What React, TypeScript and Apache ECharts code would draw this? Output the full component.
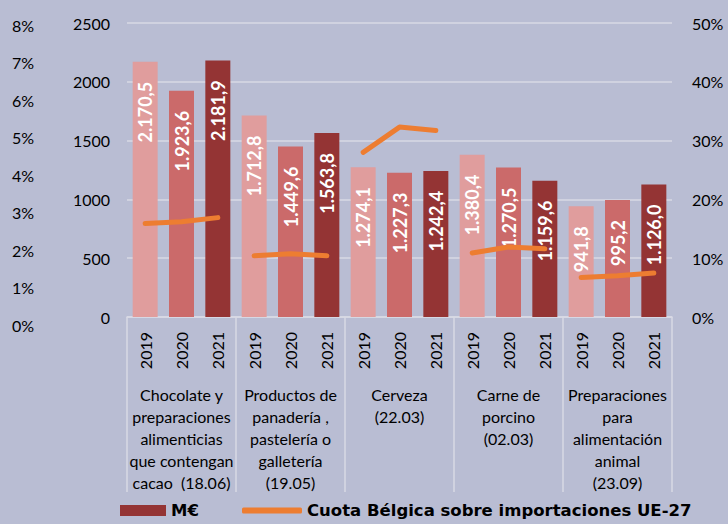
import React, { useEffect, useRef } from "react";
import * as echarts from "echarts";

const years = ["2019", "2020", "2021", "2019", "2020", "2021", "2019", "2020", "2021", "2019", "2020", "2021", "2019", "2020", "2021"];
const groups = [
  "Chocolate y\npreparaciones\nalimenticias\nque contengan\ncacao  (18.06)",
  "Productos de\npanadería ,\npastelería o\ngalletería\n(19.05)",
  "Cerveza\n(22.03)",
  "Carne de\nporcino\n(02.03)",
  "Preparaciones\npara\nalimentación\nanimal\n(23.09)",
];
const importsMEur = [2170.5, 1923.6, 2181.9, 1712.8, 1449.6, 1563.8, 1274.1, 1227.3, 1242.4, 1380.4, 1270.5, 1159.6, 941.8, 995.2, 1126.0];
const shareBelgium = [
  [0.159, 0.162, 0.169],
  [0.104, 0.1075, 0.104],
  [0.28, 0.323, 0.317],
  [0.109, 0.119, 0.116],
  [0.067, 0.07, 0.075],
];
const yearColors = ["#e09d9d", "#cb6a6a", "#943434"];
const leftPctTicks = [0, 0.08];
const barName = "M€";
const lineName = "Cuota Bélgica sobre importaciones UE-27";

const FONT = "Lato";
const WIDE_BOLD = "DejaVu Sans";

function fmtEs(v: number): string {
  const s = v.toFixed(1);
  const [intPart, dec] = s.split(".");
  const withDots = intPart.replace(/\B(?=(\d{3})+(?!\d))/g, ".");
  return withDots + "," + dec;
}

export default function App() {
  const ref = useRef<HTMLDivElement>(null);
  useEffect(() => {
    if (!ref.current) return;
    const chart = echarts.init(ref.current, null, { renderer: "svg" });
    const gridColor = "#d9dae5";
    const lineSeries = shareBelgium.map((vals, gi) => {
      const data: (number | string)[] = years.map(() => "-");
      vals.forEach((v, k) => {
        data[gi * 3 + k] = v;
      });
      return {
        name: lineName,
        type: "line",
        xAxisIndex: 0,
        yAxisIndex: 1,
        data,
        symbol: "none",
        showSymbol: false,
        connectNulls: false,
        z: 5,
        lineStyle: { color: "#ed7d31", width: 5, cap: "round", join: "round" },
        itemStyle: { color: "#ed7d31" },
      };
    });
    chart.setOption({
      animation: false,
      backgroundColor: "#b9bdd3",
      textStyle: { fontFamily: FONT },
      grid: [
        { left: 127, right: 56, top: 23, bottom: 207 },
        { left: 40, width: 1, top: 25, height: 300 },
      ],
      legend: [
        {
          data: [barName],
          left: 115,
          top: 497,
          padding: 5,
          itemWidth: 46,
          itemHeight: 11,
          icon: "rect",
          textStyle: { fontFamily: WIDE_BOLD, fontWeight: "bold", fontSize: 16.5, color: "#000" },
        },
        {
          data: [{ name: lineName, icon: "roundRect" }],
          left: 237,
          top: 497,
          padding: 5,
          itemWidth: 60,
          itemHeight: 6,
          itemStyle: { color: "#ed7d31" },
          textStyle: { fontFamily: WIDE_BOLD, fontWeight: "bold", fontSize: 16.5, color: "#000" },
        },
      ],
      xAxis: [
        {
          type: "category",
          gridIndex: 0,
          data: years,
          axisLine: { lineStyle: { color: gridColor, width: 1.5 } },
          axisTick: { show: false },
          axisLabel: { rotate: 90, margin: 15, fontSize: 16, color: "#000", fontFamily: FONT, interval: 0 },
        },
        {
          type: "category",
          gridIndex: 0,
          position: "bottom",
          data: groups,
          axisLine: { show: false },
          axisTick: { show: true, length: 175, interval: 0, lineStyle: { color: gridColor, width: 1.5 } },
          axisLabel: { margin: 66, fontSize: 16, lineHeight: 22, color: "#000", fontFamily: FONT, interval: 0 },
        },
        {
          type: "category",
          gridIndex: 1,
          data: [""],
          show: false,
        },
      ],
      yAxis: [
        {
          type: "value",
          gridIndex: 0,
          min: 0,
          max: 2500,
          interval: 500,
          axisLine: { show: false },
          axisTick: { show: false },
          splitLine: { lineStyle: { color: gridColor, width: 1.5 } },
          axisLabel: { margin: 17, fontSize: 16, color: "#000", fontFamily: FONT, formatter: (v: number) => String(v) },
        },
        {
          type: "value",
          gridIndex: 0,
          position: "right",
          min: 0,
          max: 0.5,
          interval: 0.1,
          axisLine: { show: false },
          axisTick: { show: false },
          splitLine: { show: false },
          axisLabel: {
            margin: 20,
            fontSize: 16,
            color: "#000",
            fontFamily: FONT,
            formatter: (v: number) => Math.round(v * 100) + "%",
          },
        },
        {
          type: "value",
          gridIndex: 1,
          min: leftPctTicks[0],
          max: leftPctTicks[1],
          interval: 0.01,
          axisLine: { show: false },
          axisTick: { show: false },
          splitLine: { show: false },
          axisLabel: {
            margin: 6,
            fontSize: 16,
            color: "#000",
            fontFamily: FONT,
            formatter: (v: number) => Math.round(v * 100) + "%",
          },
        },
      ],
      series: [
        {
          name: barName,
          type: "bar",
          xAxisIndex: 0,
          yAxisIndex: 0,
          barWidth: 25,
          itemStyle: { color: yearColors[2] },
          data: importsMEur.map((v, i) => ({ value: v, itemStyle: { color: yearColors[i % 3] } })),
          label: {
            show: true,
            position: ["50%", 20],
            rotate: 90,
            align: "right",
            verticalAlign: "middle",
            color: "#fff",
            fontWeight: "bold",
            fontSize: 18,
            fontFamily: FONT,
            formatter: (p: any) => fmtEs(p.value),
          },
        },
        ...lineSeries,
      ],
    });
    return () => chart.dispose();
  }, []);
  return <div ref={ref} style={{ position: "absolute", left: 0, top: 0, width: 728, height: 524 }} />;
}
